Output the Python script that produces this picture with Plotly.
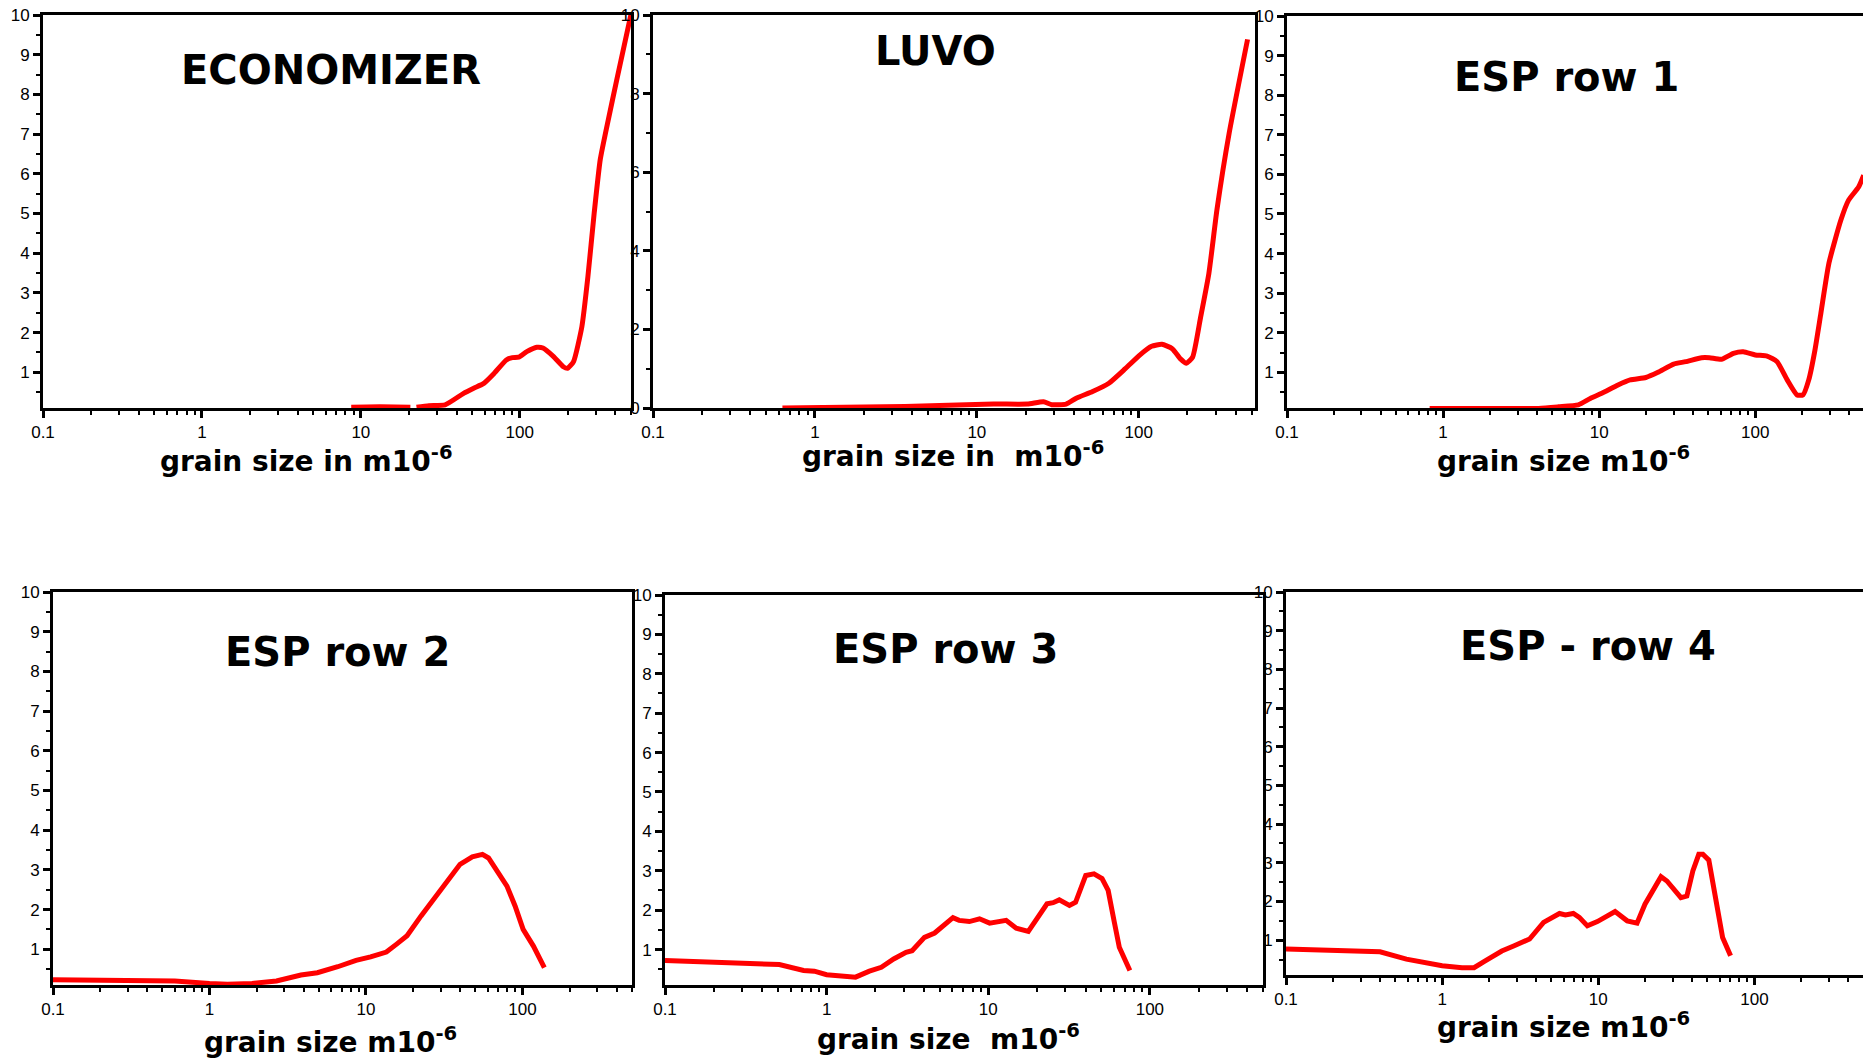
import plotly.graph_objects as go

W, H = 1863, 1058

# ---------------- data ----------------
titles = ["ECONOMIZER", "LUVO", "ESP row 1", "ESP row 2", "ESP row 3", "ESP - row 4"]
xlabels = [
    "grain size in m10<sup>-6</sup>",
    "grain size in\u00a0 m10<sup>-6</sup>",
    "grain size m10<sup>-6</sup>",
    "grain size m10<sup>-6</sup>",
    "grain size\u00a0 m10<sup>-6</sup>",
    "grain size m10<sup>-6</sup>",
]

x_major = [0.1, 1, 10, 100]
x_major_text = ["0.1", "1", "10", "100"]
x_minor = [m * d for d in (0.1, 1, 10, 100) for m in range(2, 10)]

y_major_a = [1, 2, 3, 4, 5, 6, 7, 8, 9, 10]
y_minor_a = [0.5, 1.5, 2.5, 3.5, 4.5, 5.5, 6.5, 7.5, 8.5, 9.5]
y_major_b = [0, 2, 4, 6, 8, 10]
y_minor_b = [1, 3, 5, 7, 9]

econ_x = [8.7, 13.2, 20.5, None, 22.4, 26.8, 33.9, 44.3, 51.3, 59.4, 68.9, 82.3, 89.9, 98.4,
          110.7, 128, 140, 162.6, 188, 200, 218, 246, 268.5, 294, 321, 361, 406, 500]
econ_y = [0.12, 0.13, 0.12, None, 0.12, 0.16, 0.18, 0.47, 0.60, 0.72, 0.97, 1.31, 1.37, 1.38,
          1.52, 1.63, 1.61, 1.40, 1.14, 1.10, 1.27, 2.15, 3.41, 5.01, 6.36, 7.37, 8.33, 10.0]

luvo_x = [0.63, 3.59, 12.7, 20.5, 25.8, 29.0, 35.6, 41.1, 51.9, 65.4, 82.6, 101, 120, 139,
          161, 181, 197, 215, 241, 271, 304, 362, 470]
luvo_y = [0.0, 0.04, 0.10, 0.10, 0.16, 0.085, 0.10, 0.25, 0.42, 0.63, 1.0, 1.34, 1.57, 1.62,
          1.51, 1.25, 1.14, 1.29, 2.31, 3.42, 5.04, 7.0, 9.38]

esp1_x = [0.82, 4.09, 5.48, 7.36, 8.77, 10.4, 13.2, 15.8, 19.9, 23.8, 30.0, 35.8, 45.3, 50.9,
          60.7, 72.4, 83.8, 100, 119, 138, 160, 185, 202, 220, 241, 263, 296, 353, 396, 459, 495]
esp1_y = [0.09, 0.09, 0.13, 0.18, 0.34, 0.47, 0.68, 0.81, 0.87, 1.0, 1.21, 1.27, 1.37, 1.37,
          1.33, 1.48, 1.52, 1.44, 1.41, 1.27, 0.81, 0.43, 0.43, 0.81, 1.56, 2.49, 3.75, 4.84,
          5.35, 5.68, 5.98]

esp2_x = [0.1, 0.39, 0.60, 1.0, 1.30, 1.87, 2.68, 3.84, 4.89, 6.60, 8.64, 10.7, 13.5, 15.7,
          18.3, 22.5, 27.9, 32.4, 39.9, 47.8, 55.5, 60.7, 68.4, 79.6, 89.7, 101, 117.5, 138]
esp2_y = [0.23, 0.23, 0.20, 0.14, 0.12, 0.14, 0.20, 0.35, 0.41, 0.56, 0.72, 0.81, 0.93, 1.13,
          1.34, 1.84, 2.34, 2.68, 3.14, 3.33, 3.39, 3.30, 2.97, 2.59, 2.09, 1.50, 1.08, 0.54]

esp3_x = [0.1, 0.51, 0.72, 0.84, 1.0, 1.51, 1.84, 2.18, 2.60, 3.10, 3.38, 4.03, 4.66, 5.38,
          6.05, 6.60, 7.64, 8.83, 10.2, 12.9, 14.9, 17.7, 19.9, 23.1, 25.2, 27.5, 31.8, 34.7,
          40.1, 45.1, 50.6, 55.2, 60.3, 64.7, 75.2]
esp3_y = [0.72, 0.62, 0.47, 0.45, 0.36, 0.30, 0.45, 0.55, 0.76, 0.93, 0.97, 1.31, 1.42, 1.65,
          1.81, 1.74, 1.71, 1.78, 1.67, 1.74, 1.54, 1.46, 1.78, 2.16, 2.19, 2.26, 2.12, 2.20,
          2.88, 2.92, 2.80, 2.50, 1.69, 1.06, 0.47]

esp4_x = [0.1, 0.40, 0.59, 0.84, 1.0, 1.34, 1.60, 1.91, 2.41, 2.87, 3.63, 4.46, 5.16, 5.64,
          6.15, 6.92, 7.56, 8.51, 9.86, 12.8, 15.3, 17.7, 19.9, 22.4, 25.2, 27.5, 30.9, 33.8,
          36.9, 40.3, 44.0, 46.7, 51.0, 57.3, 62.5, 70.3]
esp4_y = [0.77, 0.70, 0.51, 0.41, 0.34, 0.29, 0.29, 0.48, 0.72, 0.85, 1.03, 1.46, 1.59, 1.69,
          1.65, 1.69, 1.59, 1.37, 1.48, 1.74, 1.50, 1.44, 1.93, 2.27, 2.64, 2.53, 2.27, 2.10,
          2.14, 2.79, 3.22, 3.22, 3.07, 2.02, 1.07, 0.60]

series_x = [econ_x, luvo_x, esp1_x, esp2_x, esp3_x, esp4_x]
series_y = [econ_y, luvo_y, esp1_y, esp2_y, esp3_y, esp4_y]

# ---------------- layout geometry (pixels in the 1863x1058 page) ----------------
# (left, right, top, bottom, x-range-end (log10), y-min, y-max, right frame)
panels = [
    (43, 631, 15, 408, 2.70, 0.1, 10, True),
    (653, 1255, 15, 408, 2.718, 0.0, 10, True),
    (1287, 1863, 16, 408, 2.69, 0.1, 10, False),
    (53, 632, 592, 985, 2.70, 0.1, 10, True),
    (665, 1263, 595, 985, 2.70, 0.1, 10, True),
    (1286, 1863, 592, 975, 2.695, 0.1, 10, False),
]
title_pos = [(331, 70), (935, 51), (1566, 77), (337, 652), (945, 649), (1588, 646)]
xlabel_pos = [(306, 459), (953, 454), (1563, 459), (330, 1040), (948, 1037), (1563, 1025)]

TICKFONT = "Liberation Sans, Arial, sans-serif"
BOLDFONT = "DejaVu Sans, Verdana, sans-serif"

fig = go.Figure()
layout = dict(
    width=W, height=H,
    margin=dict(l=0, r=0, t=0, b=0),
    paper_bgcolor="white", plot_bgcolor="white",
    showlegend=False, hovermode=False,
    template="none",
)

annotations = []
for i, (l, r, t, b, xend, ymin, ymax, rframe) in enumerate(panels):
    n = "" if i == 0 else str(i + 1)
    xa, ya = "x" + n, "y" + n
    fig.add_trace(go.Scatter(
        x=series_x[i], y=series_y[i], mode="lines", xaxis=xa, yaxis=ya,
        line=dict(color="#ff0000", width=5,
                  shape="spline" if i < 3 else "linear", smoothing=0.5),
        connectgaps=False,
    ))
    luvo = (i == 1)
    layout["xaxis" + n] = dict(
        type="log", domain=[l / W, r / W], anchor=ya, range=[-1, xend],
        showline=True, linewidth=3, linecolor="black", mirror=True,
        ticks="outside", ticklen=7, tickwidth=2.5, tickcolor="black",
        tickvals=x_major, ticktext=x_major_text,
        minor=dict(tickvals=x_minor, ticks="outside", ticklen=4, tickwidth=2, tickcolor="black"),
        showgrid=False, zeroline=False, automargin=False,
        tickfont=dict(family=TICKFONT, size=17, color="black"),
    )
    layout["yaxis" + n] = dict(
        domain=[1 - b / H, 1 - t / H], anchor=xa, range=[ymin, ymax],
        showline=True, linewidth=3, linecolor="black", mirror=rframe,
        ticks="outside", ticklen=7, tickwidth=2.5, tickcolor="black",
        tickvals=y_major_b if luvo else y_major_a,
        minor=dict(tickvals=y_minor_b if luvo else y_minor_a, ticks="outside",
                   ticklen=4, tickwidth=2, tickcolor="black"),
        showgrid=False, zeroline=False, automargin=False,
        tickfont=dict(family=TICKFONT, size=17, color="black"),
    )
    tx, ty = title_pos[i]
    annotations.append(dict(
        text="<b>" + titles[i] + "</b>", x=tx / W, y=1 - ty / H, xref="paper", yref="paper",
        xanchor="center", yanchor="middle", showarrow=False,
        font=dict(family=BOLDFONT, size=40, color="black"),
    ))
    lx, ly = xlabel_pos[i]
    annotations.append(dict(
        text="<b>" + xlabels[i] + "</b>", x=lx / W, y=1 - ly / H, xref="paper", yref="paper",
        xanchor="center", yanchor="middle", showarrow=False,
        font=dict(family=BOLDFONT, size=28, color="black"),
    ))

layout["annotations"] = annotations
fig.update_layout(**layout)
fig.write_html("out.html")
